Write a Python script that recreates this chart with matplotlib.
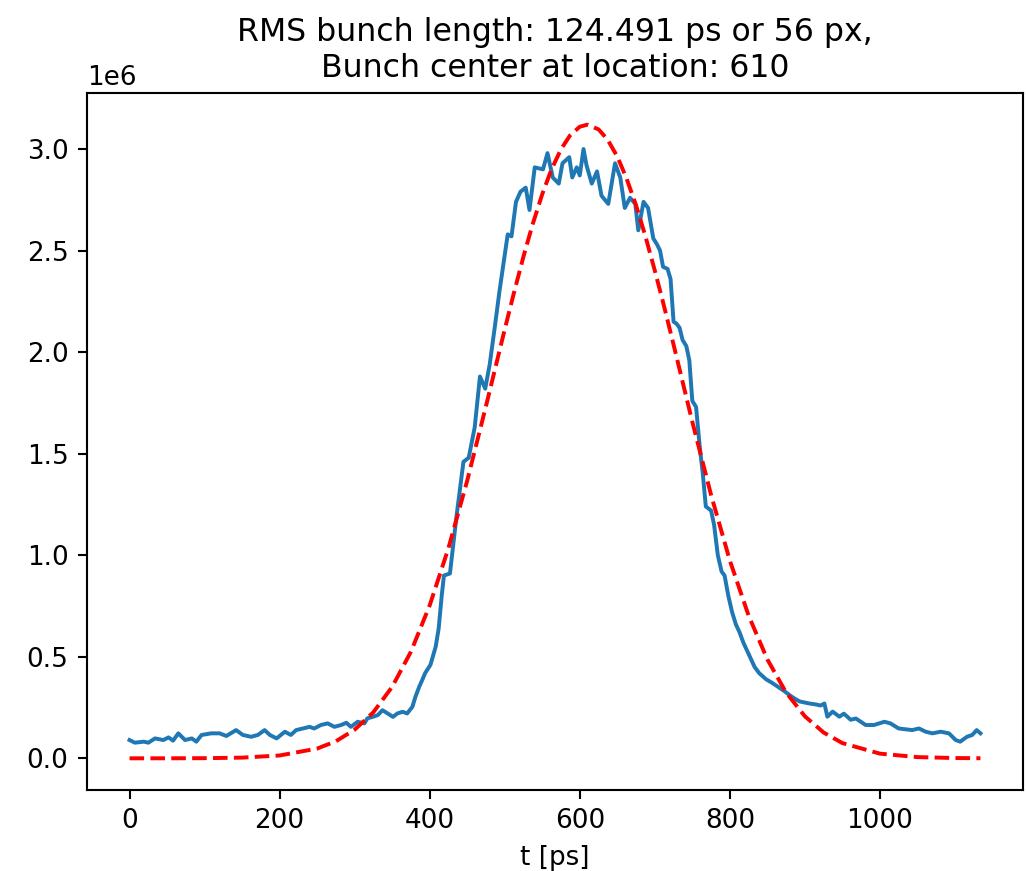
import matplotlib
matplotlib.use("Agg")
import matplotlib.pyplot as plt
import numpy as np

# measured profile: (t in ps, intensity in units of 1e6)
meas = [
    (0, 0.090), (7, 0.077), (19, 0.082), (25, 0.077), (34, 0.098), (45, 0.090),
    (52, 0.103), (58, 0.087), (65, 0.123), (74, 0.090), (83, 0.098), (89, 0.082),
    (96, 0.115), (109, 0.123), (120, 0.123), (129, 0.110), (142, 0.139),
    (151, 0.115), (162, 0.106), (171, 0.115), (180, 0.139), (187, 0.115),
    (196, 0.098), (207, 0.131), (215, 0.115), (222, 0.139), (231, 0.147),
    (240, 0.155), (246, 0.147), (255, 0.164), (264, 0.172), (273, 0.155),
    (282, 0.164), (289, 0.175), (295, 0.155), (304, 0.180), (313, 0.172),
    (317, 0.197), (324, 0.204), (331, 0.213), (337, 0.237), (344, 0.221),
    (351, 0.204), (357, 0.221), (364, 0.229), (370, 0.221), (377, 0.254),
    (381, 0.303), (386, 0.352), (390, 0.385), (394, 0.42), (401, 0.46),
    (408, 0.55), (412, 0.64), (416, 0.80), (419, 0.90), (427, 0.91),
    (436, 1.20), (445, 1.46), (452, 1.48), (460, 1.63), (467, 1.88),
    (474, 1.82), (480, 1.94), (487, 2.13), (493, 2.30), (504, 2.58),
    (509, 2.57), (515, 2.74), (521, 2.79), (528, 2.81), (533, 2.70),
    (540, 2.91), (551, 2.90), (557, 2.98), (564, 2.86), (572, 2.83),
    (577, 2.93), (586, 2.96), (590, 2.86), (596, 2.91), (600, 2.87),
    (605, 3.00), (609, 2.92), (616, 2.83), (623, 2.89), (629, 2.77),
    (638, 2.73), (647, 2.93), (654, 2.86), (660, 2.71), (667, 2.76),
    (674, 2.73), (678, 2.60), (685, 2.74), (691, 2.71), (698, 2.56),
    (703, 2.53), (707, 2.50), (711, 2.42), (717, 2.41), (721, 2.36),
    (725, 2.15), (729, 2.14), (733, 2.12), (737, 2.06), (742, 2.03),
    (746, 1.96), (750, 1.76), (755, 1.73), (760, 1.53), (764, 1.40),
    (768, 1.24), (775, 1.22), (779, 1.15), (784, 1.00), (789, 0.92),
    (793, 0.90), (798, 0.80), (803, 0.72), (808, 0.66), (813, 0.62),
    (818, 0.57), (823, 0.53), (828, 0.49), (833, 0.45), (839, 0.42),
    (848, 0.39), (857, 0.37), (865, 0.35), (873, 0.33), (880, 0.31),
    (886, 0.295), (893, 0.28), (906, 0.27), (915, 0.265), (921, 0.26),
    (926, 0.27), (930, 0.205), (937, 0.23), (946, 0.205), (952, 0.22),
    (961, 0.19), (968, 0.196), (981, 0.164), (992, 0.164), (1006, 0.18),
    (1014, 0.172), (1025, 0.147), (1043, 0.139), (1052, 0.147),
    (1061, 0.131), (1070, 0.123), (1081, 0.131), (1092, 0.123),
    (1101, 0.090), (1107, 0.082), (1116, 0.106), (1123, 0.115),
    (1129, 0.139), (1134, 0.123),
]

# gaussian fit curve
t_fit = [0, 50, 100, 150, 200, 250, 275, 300, 325, 350, 375, 400, 425, 450,
         475, 500, 512, 525, 537, 550, 562, 575, 587, 600, 610, 625, 637, 650,
         662, 675, 687, 700, 712, 725, 750, 775, 800, 825, 850, 875, 900, 925,
         950, 1000, 1050, 1100, 1134]
y_fit = [0.0, 0.0001, 0.0007, 0.0034, 0.014, 0.048, 0.084, 0.141, 0.227,
         0.352, 0.525, 0.753, 1.035, 1.367, 1.734, 2.112, 2.288, 2.471, 2.627,
         2.778, 2.897, 2.999, 3.067, 3.110, 3.120, 3.097, 3.047, 2.963, 2.859,
         2.723, 2.577, 2.402, 2.231, 2.037, 1.657, 1.297, 0.974, 0.703, 0.487,
         0.324, 0.207, 0.127, 0.075, 0.023, 0.006, 0.0014, 0.0004]

title = "RMS bunch length: 124.491 ps or 56 px,\nBunch center at location: 610"

t_meas = [p[0] for p in meas]
y_meas = np.array([p[1] for p in meas]) * 1e6

dpi = 189
fig = plt.figure(figsize=(1026 / dpi, 871 / dpi), dpi=dpi)
ax = fig.add_axes([87 / 1026, 81 / 871, 936 / 1026, 697 / 871])

ax.plot(t_meas, y_meas)
ax.plot(t_fit, np.array(y_fit) * 1e6, 'r--')

ax.set_xlabel("t [ps]")
ax.set_title(title)

fig.savefig("out.png", dpi=dpi)
